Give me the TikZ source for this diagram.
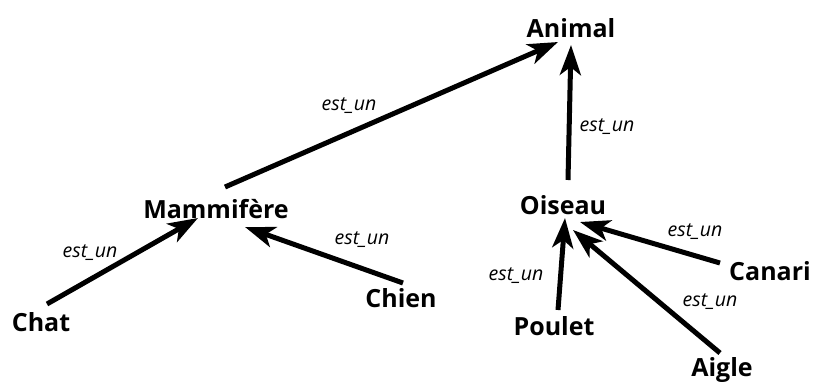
\documentclass[tikz,border=0pt]{standalone}
\usepackage{fontspec}
\setmainfont{Open Sans}
\usetikzlibrary{arrows.meta}
\begin{document}
\begin{tikzpicture}[x=1pt,y=-1pt,
  concept/.style={font=\fontsize{25}{28}\selectfont\bfseries, inner sep=0pt, text height=18pt, text depth=0pt},
  rel/.style={font=\fontsize{19.5}{22}\selectfont\itshape, inner sep=0pt},
  arr/.style={line width=5pt, -{Stealth[length=30pt,width=21pt,inset=8pt]}}]
\useasboundingbox (0,0) rectangle (817,383);
\node[concept] (animal) at (571,28) {Animal};
\node[concept] (mam) at (216,209) {Mammifère};
\node[concept] (ois) at (563,205) {Oiseau};
\node[concept] (chat) at (41,322) {Chat};
\node[concept] (chien) at (401,298) {Chien};
\node[concept] (poulet) at (554,326) {Poulet};
\node[concept] (canari) at (770,271) {Canari};
\node[concept] (aigle) at (722,367) {Aigle};
\draw[arr] ([shift={(9,-22)}]mam.center) -- ([shift={(-13,14)}]animal.center);
\draw[arr] ([shift={(5,-25)}]ois.center) -- ([shift={(0,17)}]animal.center);
\draw[arr] ([shift={(6,-18)}]chat.center) -- ([shift={(-18,9)}]mam.center);
\draw[arr] ([shift={(2,-15)}]chien.center) -- ([shift={(29,18)}]mam.center);
\draw[arr] ([shift={(4,-16)}]poulet.center) -- ([shift={(2,13)}]ois.center);
\draw[arr] ([shift={(-2,-14)}]aigle.center) -- ([shift={(10,25)}]ois.center);
\draw[arr] ([shift={(-50,-8)}]canari.center) -- ([shift={(17,17)}]ois.center);
\node[rel] (l1) at (349,106) {est\_un};
\node[rel] (l2) at (607,127) {est\_un};
\node[rel] (l3) at (90,253) {est\_un};
\node[rel] (l4) at (362,240) {est\_un};
\node[rel] (l5) at (516,276) {est\_un};
\node[rel] (l6) at (695,232) {est\_un};
\node[rel] (l7) at (710,302) {est\_un};
\end{tikzpicture}
\end{document}
